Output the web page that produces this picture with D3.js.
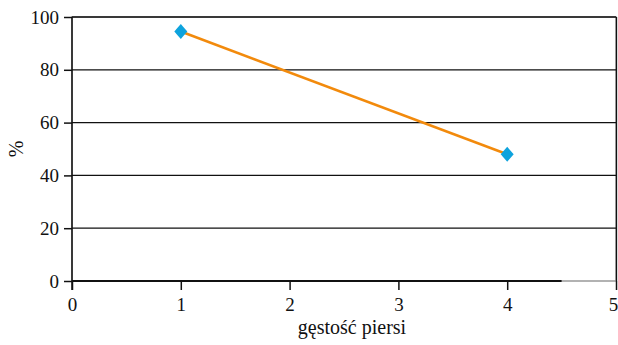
<!DOCTYPE html>
<html><head><meta charset="utf-8">
<script src="https://cdn.jsdelivr.net/npm/d3@7"></script>
</head><body style="margin:0">
<svg id="c" width="618" height="345" font-family="Liberation Serif" style="font-family:'Liberation Serif'"></svg>
<script>
const xValues = [1, 4];
const yValues = [94.5, 48];
const xTicks = [0, 1, 2, 3, 4, 5];
const yTicks = [0, 20, 40, 60, 80, 100];
const xTitle = "gęstość piersi";
const yTitle = "%";

const svg = d3.select("#c");
const L = 72, R = 616, T = 17, B = 281;
const x = d3.scaleLinear().domain([0, 5]).range([L, R]);
const y = d3.scaleLinear().domain([0, 100]).range([B, T]);
const FONT = '"Liberation Serif"';
const FS = "19px";

svg.append("rect").attr("width", 618).attr("height", 345).attr("fill", "#fff");

// plot frame (gray)
svg.append("rect").attr("x", L).attr("y", T).attr("width", R - L).attr("height", B - T)
  .attr("fill", "none").attr("stroke", "#999").attr("stroke-width", 1.5);

// gridlines
svg.append("g").selectAll("line").data(yTicks.filter(d => d > 0)).join("line")
  .attr("x1", L).attr("x2", R).attr("y1", d => y(d)).attr("y2", d => y(d))
  .attr("stroke", "#111").attr("stroke-width", 1.3);

// right border dark
svg.append("line").attr("x1", R + 0.5).attr("x2", R + 0.5).attr("y1", T).attr("y2", B)
  .attr("stroke", "#111").attr("stroke-width", 1.3);

// y axis
const yAxis = svg.append("g").attr("transform", `translate(${L},0)`)
  .call(d3.axisLeft(y).tickValues(yTicks).tickSize(8).tickPadding(5).tickFormat(d3.format("d")));
yAxis.select(".domain").remove();
yAxis.append("line").attr("x1", 0).attr("x2", 0).attr("y1", T).attr("y2", B + 9)
  .attr("stroke", "#111").attr("stroke-width", 1.5);

// x axis
const xAxis = svg.append("g").attr("transform", `translate(0,${B})`)
  .call(d3.axisBottom(x).tickValues(xTicks).tickSize(9).tickPadding(8).tickFormat(d3.format("d")));
xAxis.select(".domain").remove();
xAxis.append("line").attr("x1", L).attr("x2", x(4.5)).attr("y1", 0).attr("y2", 0)
  .attr("stroke", "#111").attr("stroke-width", 2);

[yAxis, xAxis].forEach(g => {
  g.attr("font-family", "Liberation Serif").attr("font-size", 19);
  g.selectAll(".tick line").attr("stroke", "#111").attr("stroke-width", 1.5);
  g.selectAll("text").attr("font-family", "Liberation Serif").style("font-family", FONT)
    .style("font-size", FS).attr("fill", "#111");
});
xAxis.selectAll(".tick text").filter(d => d === 5).attr("dx", -3);

// line
const pts = xValues.map((v, i) => [v, yValues[i]]);
svg.append("path").datum(pts)
  .attr("d", d3.line().x(d => x(d[0])).y(d => y(d[1])))
  .attr("fill", "none").attr("stroke", "#f28a0c").attr("stroke-width", 2.5);

// markers (diamonds)
svg.append("g").selectAll("path").data(pts).join("path")
  .attr("transform", d => `translate(${x(d[0])},${y(d[1])})`)
  .attr("d", "M0,-7.5L6.5,0L0,7.5L-6.5,0Z")
  .attr("fill", "#0ea3dd");

// titles
svg.append("text").attr("x", 352).attr("y", 334)
  .attr("text-anchor", "middle").attr("font-family", "Liberation Serif").style("font-family", FONT)
  .style("font-size", "20px").attr("fill", "#111").text(xTitle);
svg.append("text").attr("transform", `translate(23,${(T + B) / 2}) rotate(-90)`)
  .attr("text-anchor", "middle").attr("font-family", "Liberation Serif").style("font-family", FONT)
  .style("font-size", "20px").attr("fill", "#111").text(yTitle);
</script>
</body></html>
